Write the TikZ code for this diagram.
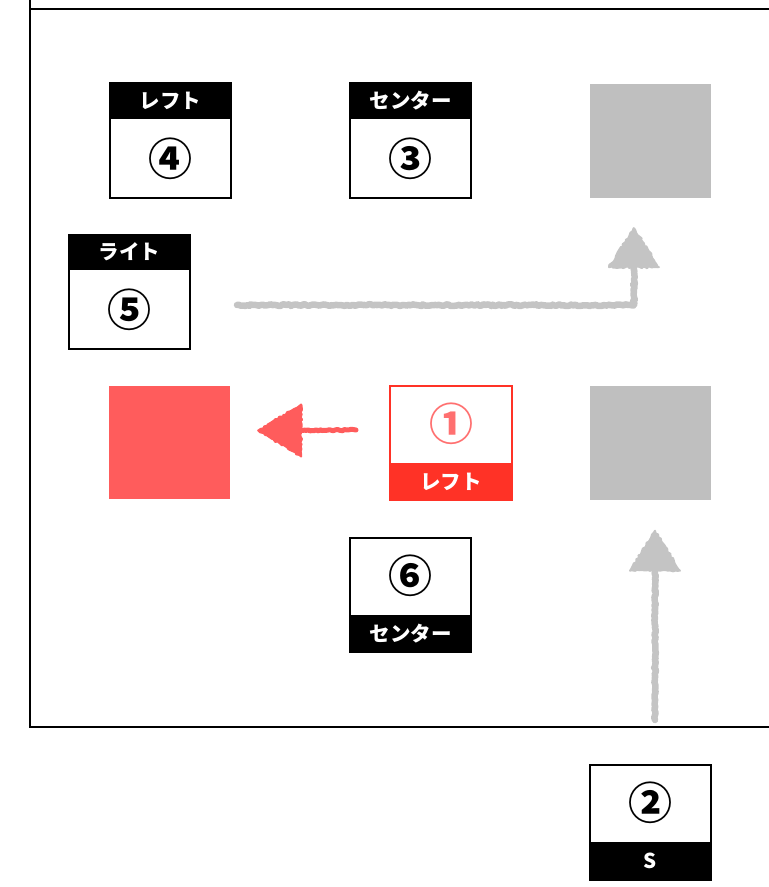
\documentclass[tikz,border=0pt]{standalone}
\usepackage{fontspec}
\newfontfamily\jp{Noto Sans CJK JP}
\usetikzlibrary{decorations.pathmorphing,calc}
\definecolor{chalkgray}{HTML}{C4C4C4}
\definecolor{mutegray}{HTML}{BFBFBF}
\definecolor{hotred}{HTML}{FF3226}
\definecolor{softred}{HTML}{FF5C5C}
\definecolor{numred}{HTML}{FF7070}
\begin{document}
\begin{tikzpicture}[x=1pt,y=-1pt,
  card/.style={draw=black,line width=2pt,fill=white,minimum width=121pt,minimum height=115pt,inner sep=0pt},
  band/.style={fill=black,minimum width=121pt,minimum height=37pt,inner sep=0pt,text=white,font=\jp\bfseries\fontsize{20.5}{20.5}\selectfont},
  num/.style={inner sep=0pt,font=\jp\bfseries\fontsize{44}{44}\selectfont},
  spot/.style={fill=mutegray,minimum width=121pt,minimum height=114pt,inner sep=0pt},
  chalk/.style={draw=chalkgray,line width=6.5pt,line cap=round,line join=round,
    decorate,decoration={random steps,segment length=2pt,amplitude=0.9pt}},
  chalkhead/.style={fill=chalkgray,draw=chalkgray,line width=2pt,line join=round,
    decorate,decoration={random steps,segment length=2.5pt,amplitude=1pt}},
]
\useasboundingbox (0,0) rectangle (769,887);

% field outline
\draw[line width=2.4pt] (30,-5) -- (30,727) -- (800,727);
\draw[line width=2.4pt] (30,9) -- (800,9);

% cards with label on top
\node[card] (c4) at (170.5,140.5) {};
\node[band,anchor=north] (c4h) at (c4.north) {レフト};
\node[num] (c4n) at (170.5,159) {④};

\node[card] (c3) at (410.5,140.5) {};
\node[band,anchor=north] (c3h) at (c3.north) {センター};
\node[num] (c3n) at (410.5,159) {③};

\node[card,minimum height=114pt] (c5) at (129.5,292) {};
\node[band,anchor=north,minimum height=36pt] (c5h) at (c5.north) {ライト};
\node[num] (c5n) at (129.5,310) {⑤};

% cards with label below
\node[card,minimum height=114pt] (c6) at (410.5,595) {};
\node[band,anchor=south,minimum height=38pt] (c6h) at (c6.south) {センター};
\node[num] (c6n) at (410.5,576) {⑥};

\node[card] (c2) at (650.5,822.5) {};
\node[band,anchor=south,minimum height=39pt] (c2h) at (c2.south) {S};
\node[num] (c2n) at (650.5,803) {②};

\node[card,draw=hotred,minimum width=122pt,minimum height=114pt] (c1) at (451,443) {};
\node[band,fill=hotred,anchor=south,minimum width=122pt,minimum height=38pt] (c1h) at (c1.south) {レフト};
\node[num,text=numred] (c1n) at (451,424) {①};

% target spots
\node[spot] (g1) at (650.5,141) {};
\node[spot] (g2) at (650.5,442.5) {};
\node[spot,fill=softred,minimum height=113pt] (r1) at (169.5,442.5) {};

% movement arrows
\coordinate (s2) at (655,720);
\draw[chalk] ($(c5.east)+(46,13)$) -- ($(g1.south)+(-16.5,107)$) -- ($(g1.south)+(-16.5,68)$);
\path[chalkhead] ($(g1.south)+(-16.5,30)$) -- ($(g1.south)+(8.5,69)$) -- ($(g1.south)+(-41.5,69)$) -- cycle;

\draw[chalk] (s2) -- ($(g2.south)+(4.5,72)$);
\path[chalkhead] ($(g2.south)+(4.5,31)$) -- ($(g2.south)+(29.5,71)$) -- ($(g2.south)+(-20.5,71)$) -- cycle;

\draw[chalk,draw=softred,line width=5pt] ($(c1.west)+(-33,-13)$) -- ($(r1.east)+(72,-12)$);
\path[chalkhead,fill=softred,draw=softred] ($(r1.east)+(28,-12)$) -- ($(r1.east)+(71,-38)$) -- ($(r1.east)+(71,14)$) -- cycle;
\end{tikzpicture}
\end{document}
